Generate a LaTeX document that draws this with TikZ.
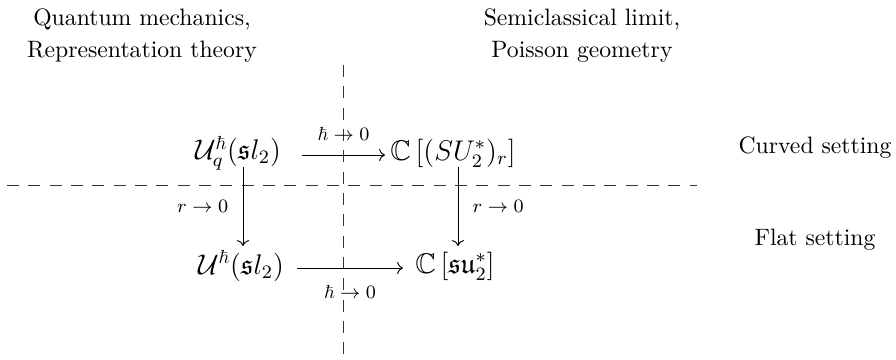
\documentclass[tikz,border=0pt]{standalone}
\usepackage{amssymb}
\usetikzlibrary{arrows.meta}
\begin{document}
\begin{tikzpicture}[x=0.421875pt,y=-0.421875pt,
  txt/.style={inner sep=0pt,anchor=base},
  mth/.style={inner sep=0pt,font=\large},
  lbl/.style={inner sep=0pt,font=\footnotesize},
  arr/.style={-{Computer Modern Rightarrow},line width=0.4pt},
  dsh/.style={line width=0.4pt,dash pattern=on 5pt off 4pt,black!80}]
\useasboundingbox (0,0) rectangle (896,359);
% headers
\node[txt] (qa) at (142,25) {Quantum mechanics,};
\node[txt] (qb) at (142,57) {Representation theory};
\node[txt] (sa) at (582,25) {Semiclassical limit,};
\node[txt] (sb) at (582,57) {Poisson geometry};
\node[txt] (cs) at (815,153) {Curved setting};
\node[txt] (fs) at (815,245) {Flat setting};
% dashed separators
\coordinate (vt) at (343,65);
\coordinate (vb) at (343,359);
\coordinate (hl) at (7,185);
\coordinate (hr) at (697,185);
\draw[dsh] (vt) -- (vb);
\draw[dsh] (hl) -- (hr);
% nodes
\node[mth] (tl) at (238,153) {$\mathcal{U}_q^\hbar(\mathfrak{s}l_2)$};
\node[mth] (tr) at (453,153) {$\mathbb{C}\left[(SU_2^*)_r\right]$};
\node[mth] (bl) at (241,266) {$\mathcal{U}^\hbar(\mathfrak{s}l_2)$};
\node[mth] (br) at (455,266) {$\mathbb{C}\left[\mathfrak{su}_2^*\right]$};
% arrow end points
\coordinate (t1) at (302,155); \coordinate (t2) at (385,155);
\coordinate (b1) at (297,268); \coordinate (b2) at (403,268);
\coordinate (l1) at (243,167); \coordinate (l2) at (243,246);
\coordinate (r1) at (458,167); \coordinate (r2) at (458,246);
% arrows
\draw[arr] (t1) -- node[lbl,above=6pt]{$\hbar\to0$} (t2);
\draw[arr] (b1) -- node[lbl,below=7pt]{$\hbar\to0$} (b2);
\draw[arr] (l1) -- node[lbl,pos=0.5,left=6pt]{$r\to0$} (l2);
\draw[arr] (r1) -- node[lbl,pos=0.5,right=6pt]{$r\to0$} (r2);
\end{tikzpicture}
\end{document}
